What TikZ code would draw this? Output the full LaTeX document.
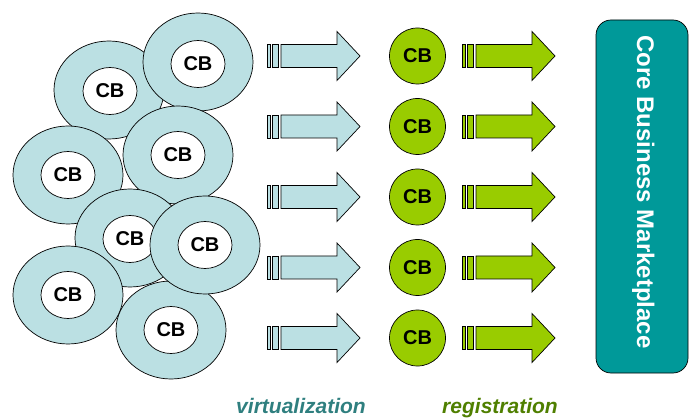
\documentclass[tikz,border=0pt]{standalone}
\usepackage{fontspec}
\setmainfont{Liberation Sans}
\usetikzlibrary{shapes.geometric}
\definecolor{ringblue}{HTML}{BBE0E3}
\definecolor{cbgreen}{HTML}{99CC00}
\definecolor{boxteal}{HTML}{009999}
\definecolor{virtcol}{HTML}{2F7F7F}
\definecolor{regcol}{HTML}{4F7F00}
\tikzset{
  outerring/.style={ellipse, draw=black, line width=0.7pt, fill=ringblue,
    minimum width=110pt, minimum height=98pt, inner sep=0pt},
  innerring/.style={ellipse, draw=black, line width=0.7pt, fill=white,
    minimum width=54pt, minimum height=47pt, inner sep=0pt,
    font=\bfseries\fontsize{20}{20}\selectfont},
  greencb/.style={circle, draw=black, line width=0.7pt, fill=cbgreen,
    minimum size=56pt, inner sep=0pt, font=\bfseries\fontsize{20}{20}\selectfont},
  pics/fatarrow/.style={code={
    \filldraw[draw=black, line width=0.7pt, fill=#1] (0,-11.5) rectangle (3,11.5);
    \filldraw[draw=black, line width=0.7pt, fill=#1] (5,-11.5) rectangle (11,11.5);
    \filldraw[draw=black, line width=0.7pt, fill=#1]
      (14,-11.5) -- (70,-11.5) -- (70,-24.5) -- (93,0) -- (70,24.5) -- (70,11.5) -- (14,11.5) -- cycle;
  }},
  labeltxt/.style={anchor=base, font=\bfseries\itshape\fontsize{21}{21}\selectfont}
}
\begin{document}
\begin{tikzpicture}[x=1pt,y=-1pt]
\useasboundingbox (0,0) rectangle (690,419);
% rings
\node[outerring] (oA) at (109,90) {};  \node[innerring] (iA) at (110,91) {CB};
\node[outerring] (oB) at (198,62) {};  \node[innerring] (iB) at (198,64) {CB};
\node[outerring] (oC) at (68,175) {};  \node[innerring] (iC) at (68,175) {CB};
\node[outerring] (oD) at (178,155) {}; \node[innerring] (iD) at (178,155) {CB};
\node[outerring] (oE) at (130,238) {}; \node[innerring] (iE) at (130,239) {CB};
\node[outerring] (oG) at (68,295) {};  \node[innerring] (iG) at (68,295) {CB};
\node[outerring] (oH) at (171,330) {}; \node[innerring] (iH) at (171,330) {CB};
\node[outerring] (oF) at (205,245) {}; \node[innerring] (iF) at (205,245) {CB};
% rows
\foreach \i in {0,...,4}{
  \pgfmathsetmacro{\yy}{56+70.5*\i}
  \pic at (267,\yy) {fatarrow=ringblue};
  \node[greencb] (g\i) at (417.5,\yy) {CB};
  \pic at (462,\yy) {fatarrow=cbgreen};
}
% marketplace box
\node[draw=black, line width=0.7pt, fill=boxteal, rounded corners=15pt,
  minimum width=92pt, minimum height=353pt, inner sep=0pt] (box) at (642,196.5) {};
\node[rotate=-90, anchor=base, text=white, font=\bfseries\fontsize{24}{24}\selectfont]
  (boxtxt) at (637,192) {Core Business Marketplace};
% labels
\node[labeltxt, text=virtcol] (virt) at (301,413) {virtualization};
\node[labeltxt, text=regcol] (reg) at (500,413) {registration};
\end{tikzpicture}
\end{document}
